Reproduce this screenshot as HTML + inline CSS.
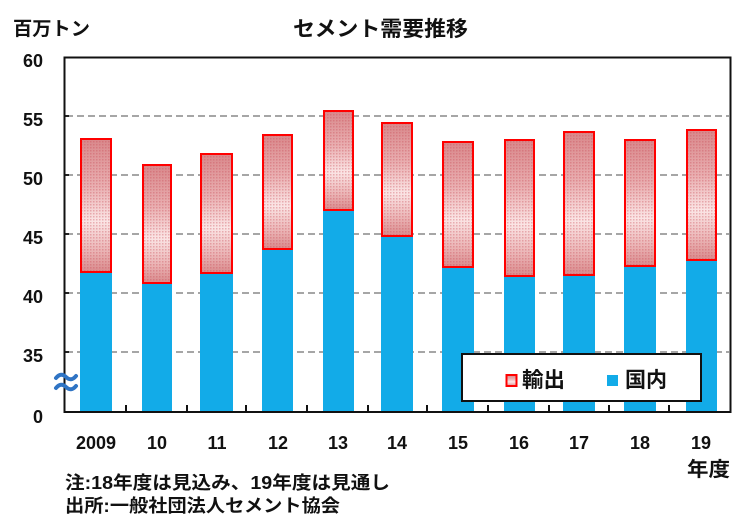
<!DOCTYPE html>
<html><head><meta charset="utf-8"><style>
html,body{margin:0;padding:0;background:#fff;}
svg{display:block;}
text{font-family:"Liberation Sans","Noto Sans CJK JP",sans-serif;font-weight:bold;fill:#111;}
</style></head><body>
<svg width="750" height="530" viewBox="0 0 750 530" xmlns="http://www.w3.org/2000/svg">
<defs>
<linearGradient id="ex" x1="0" y1="0" x2="0" y2="1">
<stop offset="0" stop-color="#d9888b"/>
<stop offset="0.35" stop-color="#e9aeb0"/>
<stop offset="0.62" stop-color="#fbe5e5"/>
<stop offset="0.85" stop-color="#eab2b3"/>
<stop offset="1" stop-color="#d98a8c"/>
</linearGradient>
<pattern id="dots" width="3" height="3" patternUnits="userSpaceOnUse">
<rect x="0" y="0" width="1.5" height="1.5" fill="#c84a55" opacity="0.35"/>
</pattern>
</defs>
<rect width="750" height="530" fill="#fff"/>

<!-- titles -->
<text x="13" y="35" font-size="19" textLength="77" lengthAdjust="spacingAndGlyphs">百万トン</text>
<text x="293" y="36" font-size="21" textLength="175" lengthAdjust="spacingAndGlyphs">セメント需要推移</text>

<!-- gridlines -->
<g stroke="#888" stroke-width="1.6" stroke-dasharray="7,4">
<line x1="66" y1="116" x2="729" y2="116"/>
<line x1="66" y1="175" x2="729" y2="175"/>
<line x1="66" y1="234" x2="729" y2="234"/>
<line x1="66" y1="293" x2="729" y2="293"/>
<line x1="66" y1="352" x2="729" y2="352"/>
</g>
<g stroke="#222" stroke-width="2">
<line x1="64" y1="116" x2="69" y2="116"/>
<line x1="64" y1="175" x2="69" y2="175"/>
<line x1="64" y1="234" x2="69" y2="234"/>
<line x1="64" y1="293" x2="69" y2="293"/>
<line x1="64" y1="352" x2="69" y2="352"/>
</g>

<!-- bars -->
<g fill="#12abe8">
<rect x="80" y="272" width="32" height="140"/>
<rect x="142" y="283" width="30" height="129"/>
<rect x="200" y="273" width="33" height="139"/>
<rect x="262" y="249" width="31" height="163"/>
<rect x="323" y="210" width="31" height="202"/>
<rect x="381" y="236" width="32" height="176"/>
<rect x="442" y="267" width="32" height="145"/>
<rect x="504" y="276" width="31" height="136"/>
<rect x="563" y="275" width="32" height="137"/>
<rect x="624" y="266" width="32" height="146"/>
<rect x="686" y="260" width="31" height="152"/>
</g>
<g stroke="#ff0000" stroke-width="2">
<rect x="81" y="139" width="30" height="133" fill="url(#ex)"/>
<rect x="143" y="165" width="28" height="118" fill="url(#ex)"/>
<rect x="201" y="154" width="31" height="119" fill="url(#ex)"/>
<rect x="263" y="135" width="29" height="114" fill="url(#ex)"/>
<rect x="324" y="111" width="29" height="99" fill="url(#ex)"/>
<rect x="382" y="123" width="30" height="113" fill="url(#ex)"/>
<rect x="443" y="142" width="30" height="125" fill="url(#ex)"/>
<rect x="505" y="140" width="29" height="136" fill="url(#ex)"/>
<rect x="564" y="132" width="30" height="143" fill="url(#ex)"/>
<rect x="625" y="140" width="30" height="126" fill="url(#ex)"/>
<rect x="687" y="130" width="29" height="130" fill="url(#ex)"/>
</g>
<g fill="url(#dots)">
<rect x="82" y="140" width="28" height="131"/>
<rect x="144" y="166" width="26" height="116"/>
<rect x="202" y="155" width="29" height="117"/>
<rect x="264" y="136" width="27" height="112"/>
<rect x="325" y="112" width="27" height="97"/>
<rect x="383" y="124" width="28" height="111"/>
<rect x="444" y="143" width="28" height="123"/>
<rect x="506" y="141" width="27" height="134"/>
<rect x="565" y="133" width="28" height="141"/>
<rect x="626" y="141" width="28" height="124"/>
<rect x="688" y="131" width="27" height="128"/>
</g>

<!-- bottom ticks -->
<g stroke="#111" stroke-width="2">
<line x1="126" y1="405" x2="126" y2="412"/>
<line x1="187" y1="405" x2="187" y2="412"/>
<line x1="246" y1="405" x2="246" y2="412"/>
<line x1="307" y1="405" x2="307" y2="412"/>
<line x1="368" y1="405" x2="368" y2="412"/>
<line x1="427" y1="405" x2="427" y2="412"/>
<line x1="488" y1="405" x2="488" y2="412"/>
<line x1="549" y1="405" x2="549" y2="412"/>
<line x1="609" y1="405" x2="609" y2="412"/>
<line x1="669" y1="405" x2="669" y2="412"/>
</g>

<!-- plot frame -->
<rect x="64.5" y="57.5" width="666" height="354.5" fill="none" stroke="#111" stroke-width="2"/>

<!-- break symbol -->
<g fill="none" stroke="#2f74c4" stroke-width="4" stroke-linecap="round">
<path d="M56 378 Q61 372 66 377 T76 376"/>
<path d="M56 388 Q61 382 66 387 T76 386"/>
</g>

<!-- y labels -->
<g font-size="18" text-anchor="end">
<text x="43" y="67">60</text>
<text x="43" y="126">55</text>
<text x="43" y="185">50</text>
<text x="43" y="244">45</text>
<text x="43" y="303">40</text>
<text x="43" y="362">35</text>
<text x="43" y="423">0</text>
</g>

<!-- x labels -->
<g font-size="18" text-anchor="middle">
<text x="96" y="449">2009</text>
<text x="157" y="449">10</text>
<text x="217" y="449">11</text>
<text x="278" y="449">12</text>
<text x="338" y="449">13</text>
<text x="397" y="449">14</text>
<text x="458" y="449">15</text>
<text x="519" y="449">16</text>
<text x="579" y="449">17</text>
<text x="640" y="449">18</text>
<text x="701" y="449">19</text>
</g>
<text x="687" y="476" font-size="20" textLength="43" lengthAdjust="spacingAndGlyphs">年度</text>

<!-- legend -->
<rect x="462" y="354" width="239" height="47" fill="#fff" stroke="#111" stroke-width="2"/>
<rect x="506.5" y="375" width="10" height="11" fill="url(#ex)" stroke="#ff0000" stroke-width="2"/>
<text x="522" y="387" font-size="21" textLength="43" lengthAdjust="spacingAndGlyphs">輸出</text>
<rect x="607" y="375" width="11" height="11" fill="#12abe8"/>
<text x="625" y="387" font-size="21" textLength="42" lengthAdjust="spacingAndGlyphs">国内</text>

<!-- notes -->
<text x="65" y="489" font-size="18" textLength="325" lengthAdjust="spacingAndGlyphs">注:18年度は見込み、19年度は見通し</text>
<text x="65" y="512" font-size="18" textLength="275" lengthAdjust="spacingAndGlyphs">出所:一般社団法人セメント協会</text>
</svg>
</body></html>
